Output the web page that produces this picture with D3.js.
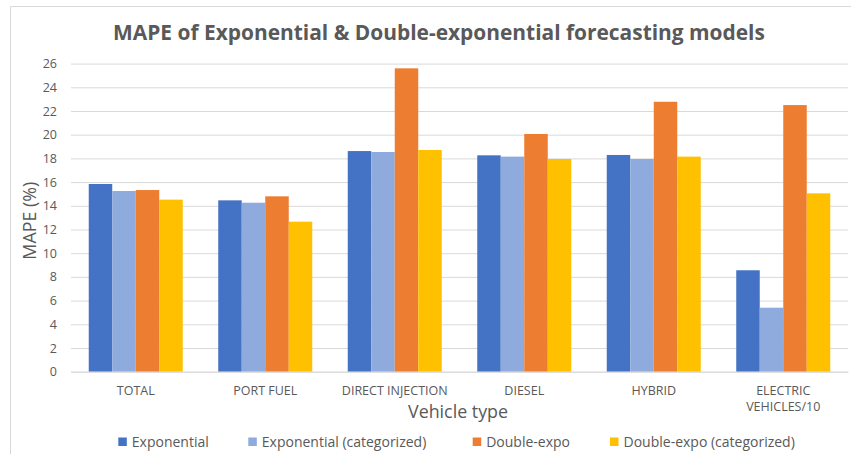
<!DOCTYPE html>
<html><head><meta charset="utf-8">
<script src="https://cdn.jsdelivr.net/npm/d3@7"></script>
<style>body{margin:0;background:#fff}svg{display:block}text{font-family:"Open Sans","Noto Sans",sans-serif}</style>
</head><body><svg id="c" width="851" height="454"></svg>
<script>
const categories = ["TOTAL","PORT FUEL","DIRECT INJECTION","DIESEL","HYBRID","ELECTRIC\nVEHICLES/10"];
const seriesNames = ["Exponential","Exponential (categorized)","Double-expo","Double-expo (categorized)"];
const exponential = [15.84, 14.46, 18.62, 18.26, 18.29, 8.56];
const exponentialCat = [15.25, 14.26, 18.54, 18.15, 17.95, 5.4];
const doubleExpo = [15.33, 14.8, 25.6, 20.06, 22.78, 22.5];
const doubleExpoCat = [14.52, 12.66, 18.71, 17.95, 18.15, 15.05];
const yTicks = [0,2,4,6,8,10,12,14,16,18,20,22,24,26];
const colors = ["#4472C4","#8FAADC","#ED7D31","#FFC000"];
const seriesValues = [exponential, exponentialCat, doubleExpo, doubleExpoCat];

const svg = d3.select("#c");
const mLeft = 71, mRight = 848, mTop = 63.6, mBottom = 371.7;
const txt = "#595959", grid = "#d9d9d9";

// chart border
svg.append("path").attr("d","M10.5,454 V6.5 H851").attr("fill","none").attr("stroke",grid).attr("stroke-width",1);

const x = d3.scaleBand().domain(categories).range([mLeft,mRight]).paddingInner(0).paddingOuter(0);
const inner = d3.scaleBand().domain(seriesNames).range([0, x.bandwidth()]).paddingOuter(0.755).paddingInner(0);
const y = d3.scaleLinear().domain([0,26]).range([mBottom, mTop]);

// gridlines via axis
const gy = svg.append("g").attr("transform",`translate(${mLeft},0)`)
  .call(d3.axisLeft(y).tickValues(yTicks).tickSize(-(mRight-mLeft)).tickPadding(14).tickFormat(d3.format("d")));
gy.select(".domain").remove();
gy.selectAll(".tick line").attr("stroke",grid).attr("stroke-width",1);
gy.selectAll(".tick text").attr("fill",txt).attr("font-size",12.5).attr("font-family","'Open Sans',sans-serif");

// bars
const groups = svg.append("g").selectAll("g").data(categories).join("g")
  .attr("transform",d=>`translate(${x(d)},0)`);
groups.selectAll("rect").data((c,i)=>seriesNames.map((s,j)=>({s, v:seriesValues[j][i], j})))
  .join("rect")
  .attr("x",d=>inner(d.s)).attr("width",inner.bandwidth())
  .attr("y",d=>y(d.v)).attr("height",d=>y(0)-y(d.v))
  .attr("fill",d=>colors[d.j]);

// x axis
const gx = svg.append("g").attr("transform",`translate(0,${mBottom})`)
  .call(d3.axisBottom(x).tickSize(0).tickFormat(""));
gx.select(".domain").attr("stroke",grid);
gx.selectAll(".tick").each(function(d){
  const lines = d.split("\n");
  const t = d3.select(this).append("text").attr("fill",txt).attr("font-size",12.5).attr("text-anchor","middle");
  lines.forEach((l,i)=>t.append("tspan").attr("x",0).attr("y",23+i*16).text(l));
});

// titles
function fit(sel, w){ const n=sel.node(); const L=n.getComputedTextLength(); const fs=parseFloat(sel.attr("font-size")); sel.attr("font-size", fs*w/L); }
const title = svg.append("text").attr("x",439).attr("y",40).attr("text-anchor","middle")
  .attr("fill",txt).attr("font-weight","bold").attr("font-size",20)
  .text("MAPE of Exponential & Double-exponential forecasting models");
fit(title, 652);
const yt = svg.append("text").attr("transform",`translate(36,${(mTop+mBottom)/2+3}) rotate(-90)`).attr("text-anchor","middle")
  .attr("fill",txt).attr("font-size",16).text("MAPE (%)");
fit(yt, 78);
const xt = svg.append("text").attr("x",458).attr("y",418).attr("text-anchor","middle")
  .attr("fill",txt).attr("font-size",16).text("Vehicle type");
fit(xt, 100);

// legend
const legX = [118.3, 248.3, 472.7, 610];
const leg = svg.append("g");
seriesNames.forEach((s,i)=>{
  leg.append("rect").attr("x",legX[i]).attr("y",437.5).attr("width",8.5).attr("height",8.5).attr("fill",colors[i]);
  leg.append("text").attr("x",legX[i]+13.5).attr("y",446.5).attr("fill",txt).attr("font-size",14).text(s);
});
</script></body></html>
